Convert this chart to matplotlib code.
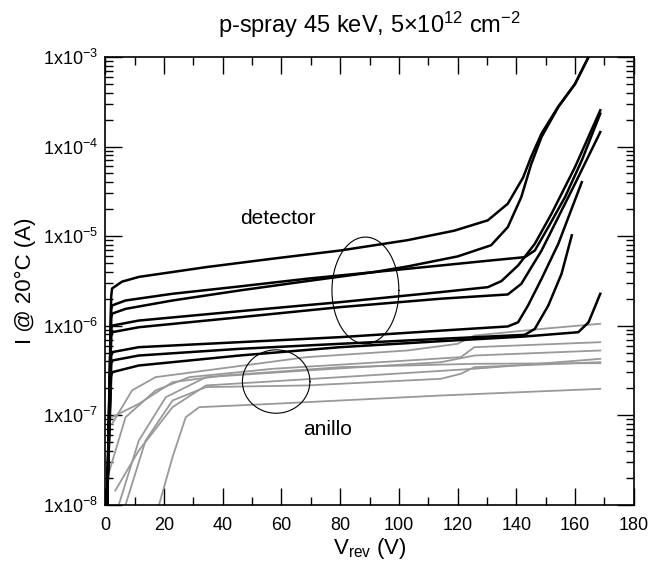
import numpy as np
import matplotlib
matplotlib.use('Agg')
import matplotlib.pyplot as plt
from matplotlib.ticker import LogLocator, MultipleLocator, NullFormatter

plt.rcParams['font.family'] = ['Liberation Sans', 'DejaVu Sans']
plt.rcParams['mathtext.fontset'] = 'custom'
plt.rcParams['mathtext.rm'] = 'Liberation Sans'
plt.rcParams['mathtext.it'] = 'Liberation Sans:italic'
plt.rcParams['mathtext.default'] = 'regular'

## detector curves (black), V in volts, I in amps
det1_v = [0.6, 2.0, 2.3, 5.7, 11.4, 34.3, 57.1, 80, 102.9, 118.9, 130.3, 137.1, 142.3, 145, 148.6, 154.3, 160, 164.6]
det1_i = [1.0e-8, 2.1e-6, 2.6e-6, 3.1e-6, 3.5e-6, 4.5e-6, 5.6e-6, 6.9e-6, 9.0e-6, 1.15e-5, 1.5e-5, 2.3e-5, 4.5e-5, 7.6e-5, 1.4e-4, 2.8e-4, 5.0e-4, 1.0e-3]

det2_v = [0.6, 2.0, 2.3, 6.9, 22.9, 45.7, 68.6, 91.4, 102.9, 120, 131.4, 137.1, 141.7, 145.1, 148.6, 154.3, 160, 164.6]
det2_i = [1.0e-8, 1.2e-6, 1.36e-6, 1.54e-6, 1.91e-6, 2.47e-6, 3.14e-6, 3.96e-6, 4.58e-6, 5.93e-6, 7.9e-6, 1.26e-5, 2.73e-5, 6.4e-5, 1.28e-4, 2.76e-4, 5.0e-4, 1.0e-3]

det3_v = [0.6, 2.0, 2.3, 6.9, 22.9, 45.7, 68.6, 97.1, 114.3, 131.4, 142.9, 146.3, 150.9, 156.6, 162.3, 168.6]
det3_i = [1.0e-8, 1.5e-6, 1.68e-6, 1.91e-6, 2.27e-6, 2.74e-6, 3.34e-6, 4.13e-6, 4.70e-6, 5.35e-6, 5.82e-6, 6.9e-6, 1.26e-5, 2.73e-5, 7.0e-5, 2.33e-4]

det4_v = [0.6, 2.0, 2.3, 11.4, 45.7, 80, 114.3, 130.3, 134.9, 140.6, 146.3, 152, 160, 168.6]
det4_i = [1.0e-8, 0.9e-6, 1.0e-6, 1.14e-6, 1.45e-6, 1.83e-6, 2.37e-6, 2.69e-6, 3.14e-6, 4.70e-6, 8.2e-6, 1.78e-5, 5.9e-5, 2.54e-4]

det5_v = [0.6, 2.0, 2.3, 11.4, 45.7, 80, 114.3, 137.1, 141.7, 148.6, 154.3, 160, 168.6]
det5_i = [1.0e-8, 7.6e-7, 8.45e-7, 9.6e-7, 1.24e-6, 1.61e-6, 2.0e-6, 2.23e-6, 2.93e-6, 6.9e-6, 1.63e-5, 3.85e-5, 1.45e-4]

det6_v = [0.6, 2.0, 2.3, 11.4, 45.7, 80, 114.3, 137.1, 140.6, 144, 148.6, 154.3, 162.3]
det6_i = [1.0e-8, 4.5e-7, 5.06e-7, 5.75e-7, 6.54e-7, 7.44e-7, 8.8e-7, 9.8e-7, 1.09e-6, 1.68e-6, 3.34e-6, 8.2e-6, 4.0e-5]

det7_v = [0.6, 2.0, 2.3, 11.4, 45.7, 80, 114.3, 142.9, 146.3, 150.9, 155.4, 158.9]
det7_i = [1.0e-8, 3.7e-7, 4.08e-7, 4.64e-7, 5.51e-7, 6.27e-7, 7.13e-7, 7.9e-7, 9.2e-7, 1.68e-6, 3.79e-6, 1.02e-5]

det8_v = [0.6, 2.0, 2.3, 11.4, 45.7, 80, 114.3, 142.9, 161.1, 164.6, 168.6]
det8_i = [1.0e-8, 2.7e-7, 3.02e-7, 3.59e-7, 4.64e-7, 5.75e-7, 6.71e-7, 7.57e-7, 8.45e-7, 1.09e-6, 2.27e-6]

## guard ring curves (grey)
ring1_v = [2.3, 9.1, 17.1, 34.3, 68.6, 102.9, 120, 125.7, 148.6, 168.6]
ring1_i = [8.0e-8, 1.89e-7, 2.66e-7, 3.16e-7, 4.45e-7, 5.28e-7, 6.27e-7, 7.76e-7, 9.2e-7, 1.05e-6]

ring2_v = [1.1, 6.9, 17.1, 28.6, 57.1, 102.9, 121.1, 125.7, 168.6]
ring2_i = [2.21e-8, 9.5e-8, 1.89e-7, 2.66e-7, 3.30e-7, 4.08e-7, 4.45e-7, 5.75e-7, 6.54e-7]

ring3_v = [4.6, 11.4, 20.6, 34.3, 68.6, 114.3, 125.7, 168.6]
ring3_i = [1.0e-8, 5.2e-8, 1.59e-7, 2.66e-7, 3.16e-7, 3.91e-7, 4.64e-7, 5.28e-7]

ring4_v = [6.9, 13.7, 22.9, 34.3, 68.6, 114.3, 121.1, 125.7, 168.6]
ring4_i = [1.0e-8, 5.2e-8, 1.46e-7, 2.06e-7, 2.15e-7, 2.55e-7, 2.90e-7, 3.44e-7, 3.91e-7]

ring5_v = [18.3, 22.9, 27.4, 32, 57.1, 114.3, 168.6]
ring5_i = [1.0e-8, 3.40e-8, 9.5e-8, 1.23e-7, 1.34e-7, 1.66e-7, 1.97e-7]

ring6_v = [2.3, 11.4, 22.9, 40, 80, 125.7, 168.6]
ring6_i = [9.5e-8, 1.34e-7, 2.34e-7, 2.77e-7, 3.44e-7, 3.75e-7, 3.81e-7]

ring7_v = [3.4, 11.4, 22.9, 34.3, 80, 125.7, 168.6]
ring7_i = [1.44e-8, 4.03e-8, 1.23e-7, 2.15e-7, 2.66e-7, 3.30e-7, 4.26e-7]

det_curves = [(det1_v, det1_i), (det2_v, det2_i), (det3_v, det3_i), (det4_v, det4_i),
              (det5_v, det5_i), (det6_v, det6_i), (det7_v, det7_i), (det8_v, det8_i)]
ring_curves = [(ring1_v, ring1_i), (ring2_v, ring2_i), (ring3_v, ring3_i), (ring4_v, ring4_i),
               (ring5_v, ring5_i), (ring6_v, ring6_i), (ring7_v, ring7_i)]

yticks = [1e-8, 1e-7, 1e-6, 1e-5, 1e-4, 1e-3]
ylabels = ['1x10$^{-8}$', '1x10$^{-7}$', '1x10$^{-6}$', '1x10$^{-5}$', '1x10$^{-4}$', '1x10$^{-3}$']

fig = plt.figure(figsize=(6.5, 5.64), dpi=100)
ax = fig.add_axes([0.162, 0.105, 0.813, 0.794])

for v, i in ring_curves:
	ax.plot(v, i, color='0.6', lw=1.3, solid_joinstyle='round')

for v, i in det_curves:
	ax.plot(v, i, color='black', lw=1.8, solid_joinstyle='round')

# circles marking the two groups (drawn in V / log-I space)
t = np.linspace(0, 2*np.pi, 200)
ax.plot(88.6 + 11.4*np.cos(t), 10**(-5.607 + 0.596*np.sin(t)), color='black', lw=0.8)
ax.plot(58.2 + 11.5*np.cos(t), 10**(-6.624 + 0.354*np.sin(t)), color='black', lw=0.8)

ax.text(58.9, 1.56e-5, 'detector', fontsize=15, ha='center', va='center')
ax.text(75.7, 7.0e-8, 'anillo', fontsize=15, ha='center', va='center')

ax.set_yscale('log')
ax.set_xlim(0, 180)
ax.set_ylim(1e-8, 1e-3)
ax.set_yticks(yticks)
ax.set_yticklabels(ylabels)
ax.yaxis.set_minor_locator(LogLocator(base=10, subs=np.arange(2, 10), numticks=20))
ax.yaxis.set_minor_formatter(NullFormatter())
ax.xaxis.set_major_locator(MultipleLocator(20))
ax.xaxis.set_minor_locator(MultipleLocator(10))

ax.tick_params(which='both', direction='in', top=True, right=True, width=1)
ax.tick_params(which='major', length=12, labelsize=13)
ax.tick_params(axis='x', which='major', pad=9)
ax.tick_params(axis='y', which='major', pad=5)
ax.tick_params(which='minor', length=5.5)
for s in ax.spines.values():
	s.set_linewidth(1.2)

ax.set_xlabel('V$_{rev}$ (V)', fontsize=16, labelpad=1)
ax.set_ylabel('I @ 20°C (A)', fontsize=16, labelpad=5)
ax.set_title('p-spray 45 keV, 5×10$^{12}$ cm$^{-2}$', fontsize=17, pad=17)

fig.savefig('out.png', dpi=100)
